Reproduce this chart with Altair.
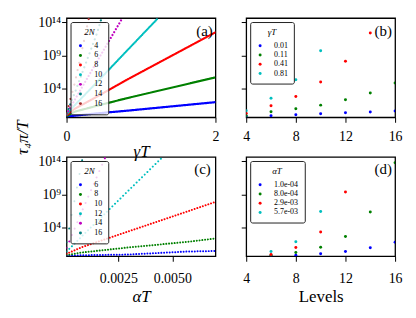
import altair as alt
import pandas as pd

SERIF = "Liberation Serif"

# ---------------- data (log10 of tau_4pi/T) ----------------
levels_a = [4, 6, 8, 10, 12, 14, 16]
gamma_pts = [0.01, 0.11, 0.41, 0.81]
logtau_gamma = {
    4: [-0.28, -0.15, 0.2, 0.6],
    6: [-0.15, 0.45, 1.35, 2.5],
    8: [0.0, 0.9, 2.75, 5.3],
    10: [0.15, 1.45, 4.95, 9.7],
    12: [0.3, 2.25, 8.1, None],
    14: [0.4, 3.3, 12.4, None],
    16: [0.55, 4.8, None, None],
}
a_start = [-0.3, -0.2, -0.05, 0.05, 0.1, 0.15, 0.2]          # at gammaT = 0
a_end_x = [2.0, 2.0, 2.0, 1.23, 0.75, 0.47, 0.3]
a_end_y = [1.9, 5.65, 12.5, 14.66, 14.66, 14.66, 14.66]

levels_c = [6, 8, 10, 12, 14, 16]
alpha_pts = [1.0e-4, 8.0e-4, 2.9e-3, 5.7e-3]
alpha_labels = ["1.0e-04", "8.0e-04", "2.9e-03", "5.7e-03"]
logtau_alpha = {
    6: [-0.33, -0.24, -0.14, 0.32],
    8: [-0.24, 0.17, 0.92, 1.79],
    10: [-0.03, 0.97, 3.3, 6.4],
    12: [0.32, 2.6, 9.35, None],
    14: [0.88, 6.33, None, None],
    16: [1.73, 13.8, None, None],
}
c_end_x = [0.007, 0.007, 0.007, 0.00455, 0.0019, 0.00085]
c_end_y = [0.4, 2.3, 7.85, 14.66, 14.66, 14.66]

gamma_labels = ["0.01", "0.11", "0.41", "0.81"]

# ---------------- styles ----------------
line_colors = ["#0000ff", "#008000", "#ff0000", "#00bfbf", "#bf00bf", "#008080", "#a52a2a"]
pt_colors = ["#0000ff", "#008000", "#ff0000", "#00bfbf"]
dash_a = [[0.01, 1.0], [0.01, 1.1], [0.01, 1.3], [0.01, 1.8], [0.01, 3.4], [0.01, 5.0], [0.01, 7.5]]
dash_c = [[0.01, 2.8], [0.01, 2.8], [0.01, 2.9], [0.01, 3.8], [0.01, 7.0], [0.01, 14.0]]

YDOM = [10 ** -0.4, 10 ** 14.66]
W, H = 150, 100

# ---------------- build tables ----------------
rows_a = []
for i, L in enumerate(levels_a):
    rows_a.append({"lvl": str(L), "x": 0.0, "y": 10 ** a_start[i]})
    for g, v in zip(gamma_pts, logtau_gamma[L]):
        if v is not None and g < a_end_x[i]:
            rows_a.append({"lvl": str(L), "x": g, "y": 10 ** v})
    rows_a.append({"lvl": str(L), "x": a_end_x[i], "y": 10 ** a_end_y[i]})
df_a = pd.DataFrame(rows_a)

rows_b = []
for j, g in enumerate(gamma_labels):
    for L in levels_a:
        v = logtau_gamma[L][j]
        if v is not None:
            rows_b.append({"g": g, "lev": L, "y": 10 ** v})
df_b = pd.DataFrame(rows_b)

rows_c = []
for i, L in enumerate(levels_c):
    for a, v in zip(alpha_pts, logtau_alpha[L]):
        if v is not None and a < c_end_x[i]:
            rows_c.append({"lvl": str(L), "x": a, "y": 10 ** v})
    rows_c.append({"lvl": str(L), "x": c_end_x[i], "y": 10 ** c_end_y[i]})
df_c = pd.DataFrame(rows_c)

rows_d = []
for j, a in enumerate(alpha_labels):
    for L in levels_c:
        v = logtau_alpha[L][j]
        if v is not None:
            rows_d.append({"a": a, "lev": L, "y": 10 ** v})
df_d = pd.DataFrame(rows_d)

ylabel_expr = "'10' + (datum.value > 1e12 ? '¹⁴' : (datum.value > 1e7 ? '⁹' : '⁴'))"


def y_enc(show_labels, title=None):
    kw = dict(values=[1e4, 1e9, 1e14], grid=False, domain=False, tickSize=5,
              tickColor="black", labels=show_labels)
    if show_labels:
        kw.update(labelExpr=ylabel_expr, labelFont=SERIF, labelFontSize=14,
                  labelPadding=1, labelColor="black")
    if title:
        kw.update(title=title, titleFont=SERIF, titleFontSize=17, titleFontStyle="italic",
                  titleFontWeight="normal", titleY=120, titleX=-44, titleAngle=-90,
                  titleColor="black", titleBaseline="middle", titleAlign="center")
    else:
        kw.update(title=None)
    return alt.Y("y:Q", scale=alt.Scale(type="log", domain=YDOM, nice=False),
                 axis=alt.Axis(**kw))


def x_axis(values, fmt, title, italic=True, lab_pad=4, title_pad=3):
    kw = dict(values=values, format=fmt, grid=False, domain=False, tickSize=5,
              tickColor="black", labelFont=SERIF, labelFontSize=14, labelPadding=lab_pad,
              labelColor="black", labelFlush=False)
    if title:
        kw.update(title=title, titleFont=SERIF, titleFontSize=17,
                  titleFontStyle="italic" if italic else "normal",
                  titleFontWeight="normal", titlePadding=title_pad, titleColor="black")
    else:
        kw.update(title=None)
    return alt.Axis(**kw)


def legend(title, x, y, row_pad, lab_off):
    return alt.Legend(title=title, orient="none", legendX=x, legendY=y,
                      fillColor="rgba(255,255,255,0.8)", strokeColor="#222222",
                      cornerRadius=2, padding=6, symbolType="circle",
                      symbolSize=9, symbolStrokeWidth=0, symbolOpacity=1,
                      labelFont=SERIF,
                      labelFontSize=8, labelOffset=lab_off, rowPadding=row_pad,
                      titleFont=SERIF, titleFontSize=9, titleFontStyle="italic",
                      titleFontWeight="normal", titleAnchor="middle",
                      titlePadding=5, labelColor="black", titleColor="black")


def panel_label(txt, x, y):
    return alt.Chart(pd.DataFrame({"t": [txt]})).mark_text(
        font=SERIF, fontSize=15, align="center", baseline="middle", color="black"
    ).encode(x=alt.value(x), y=alt.value(y), text="t:N")


def line_panel(df, levels, colors, dashes, xenc, yenc, leg_title, width):
    lvls = [str(l) for l in levels]
    layers = []
    for i, L in enumerate(lvls):
        layers.append(
            alt.Chart(df).transform_filter(alt.datum.lvl == L).mark_line(
                clip=True, strokeWidth=width, strokeCap="round",
                strokeDash=dashes[i], color=colors[i]
            ).encode(x=xenc, y=yenc, order="x:Q")
        )
    # invisible points carrying the legend
    layers.append(
        alt.Chart(df).mark_circle(opacity=0, clip=True).encode(
            x=xenc, y=yenc,
            color=alt.Color("lvl:N", scale=alt.Scale(domain=lvls, range=colors[:len(lvls)]),
                            sort=lvls, legend=legend(leg_title, 4, 4, 1.7, 10)),
        )
    )
    return layers


# ---------------- panel (a) ----------------
xa = alt.X("x:Q", scale=alt.Scale(domain=[0, 2], nice=False),
           axis=x_axis([0, 1, 2], "d", "γT", lab_pad=7, title_pad=0))
ya = y_enc(True, "τ₄π/T")
pa = alt.layer(*line_panel(df_a, levels_a, line_colors, dash_a, xa, ya, "2N", 2.2),
               panel_label("(a)", 139, 13)).properties(width=W, height=H)

# ---------------- panel (b) ----------------
pts_b = alt.Chart(df_b).mark_circle(size=9, opacity=1, clip=True).encode(
    x=alt.X("lev:Q", scale=alt.Scale(domain=[4, 16], nice=False),
            axis=x_axis([4, 8, 12, 16], "d", None, lab_pad=7)),
    y=y_enc(False),
    color=alt.Color("g:N", scale=alt.Scale(domain=gamma_labels, range=pt_colors),
                    sort=gamma_labels, legend=legend("γT", 4, 4, 1.3, 10)),
)
pb = alt.layer(pts_b, panel_label("(b)", 138, 13)).properties(width=W, height=H)

# ---------------- panel (c) ----------------
xc = alt.X("x:Q", scale=alt.Scale(domain=[1.0e-4, 0.007], nice=False, zero=False),
           axis=x_axis([0.0025, 0.005], ".4f", "αT", lab_pad=10, title_pad=4))
yc = y_enc(True)
pc = alt.layer(*line_panel(df_c, levels_c, line_colors, dash_c, xc, yc, "2N", 2.0),
               panel_label("(c)", 137, 12)).properties(width=W, height=H)

# ---------------- panel (d) ----------------
pts_d = alt.Chart(df_d).mark_circle(size=9, opacity=1, clip=True).encode(
    x=alt.X("lev:Q", scale=alt.Scale(domain=[4, 16], nice=False),
            axis=x_axis([4, 8, 12, 16], "d", "Levels", italic=False, lab_pad=10, title_pad=4)),
    y=y_enc(False),
    color=alt.Color("a:N", scale=alt.Scale(domain=alpha_labels, range=pt_colors),
                    sort=alpha_labels, legend=legend("αT", 4, 4, 1.3, 10)),
)
pd_ = alt.layer(pts_d, panel_label("(d)", 138, 12)).properties(width=W, height=H)

chart = alt.concat(pa, pb, pc, pd_, columns=2, spacing={"row": 40, "column": 31},
                   bounds="flush").resolve_scale(
    color="independent", x="independent"
).resolve_legend(color="independent").configure_view(
    stroke="black", strokeWidth=1.3
).properties(padding={"left": 5, "top": 5, "right": 5, "bottom": 5}, background="white")

chart.save("out.html", embed_options={"renderer": "svg", "actions": False})
